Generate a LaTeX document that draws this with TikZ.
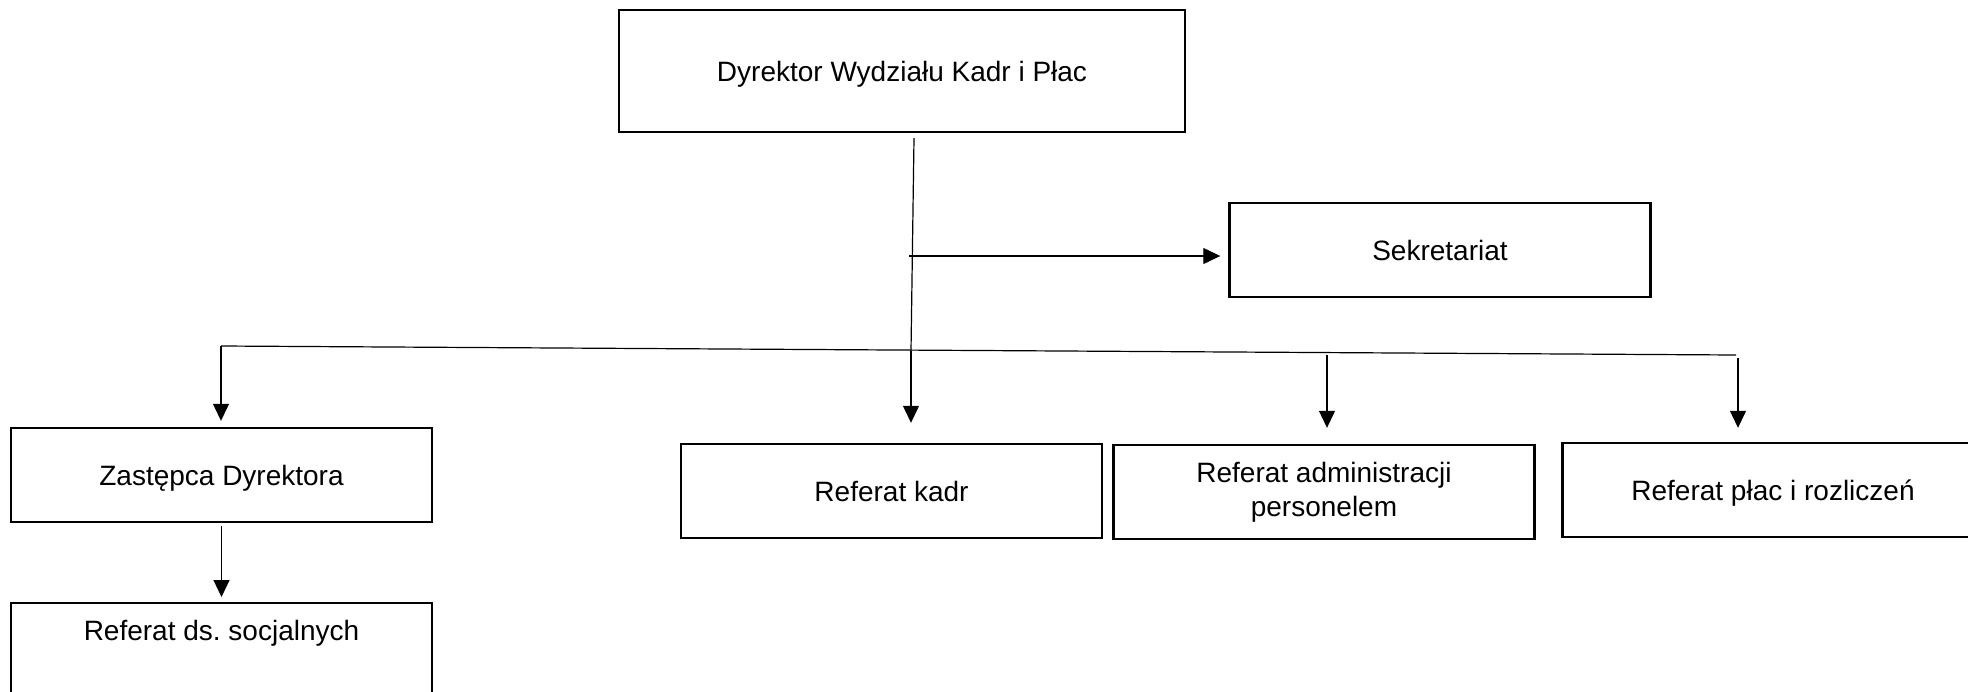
\documentclass[tikz,border=0pt]{standalone}
\usepackage{fontspec}
\setmainfont{Liberation Sans}
\usetikzlibrary{arrows.meta}
\begin{document}
\begin{tikzpicture}[x=1pt, y=-1pt]
        \tikzstyle{box} = [rectangle, draw, line width=2.4pt, minimum width=421pt, minimum height=94pt, inner sep=0pt, align=center, font=\fontsize{28}{34}\selectfont]
        \tikzstyle{link} = [line width=1.2pt]
        \tikzstyle{arr} = [link, -{Triangle[length=17pt, width=16pt]}]

        \useasboundingbox (0,0) rectangle (1968,691);

        \node (dyr) [box, minimum width=566pt, minimum height=122pt, text depth=0pt] at (902,71) {Dyrektor Wydziału Kadr i Płac};
        \node (sek) [box] at (1440,250) {Sekretariat};
        \node (zast) [box, text depth=0pt] at (221.5,475) {Zastępca Dyrektora};
        \node (soc) [box, anchor=north, text height=37pt, text depth=150pt] at (221.5,602) {Referat ds.\ socjalnych};
        \node (kadr) [box] at (891.5,491) {Referat kadr};
        \node (adm) [box] at (1324,492) {Referat administracji\\personelem};
        \node (plac) [box, text depth=0pt] at (1773,490) {Referat płac i rozliczeń};

        % szyna i rozgalezienia
        \coordinate (top) at (914,138);
        \coordinate (mid) at (911,351);
        \coordinate (sekr) at (909,256);
        \coordinate (busl) at (221,346);
        \coordinate (busr) at (1736,355);
        \coordinate (admt) at (1327,355);
        \coordinate (plact) at (1738,358);

        \draw[link] (top) -- (mid);
        \draw[link] (busl) -- (busr);
        \draw[arr, shorten >=8pt] (sekr) -- (sek.west |- sekr);
        \draw[arr, shorten >=6pt] (busl) -- (busl |- zast.north);
        \draw[arr, shorten <=3pt, shorten >=5pt] (zast.south) -- (soc.north);
        \draw[arr, shorten >=20pt] (mid) -- (mid |- kadr.north);
        \draw[arr, shorten >=16pt] (admt) -- (admt |- adm.north);
        \draw[arr, shorten >=14pt] (plact) -- (plact |- plac.north);
    \end{tikzpicture}
\end{document}
